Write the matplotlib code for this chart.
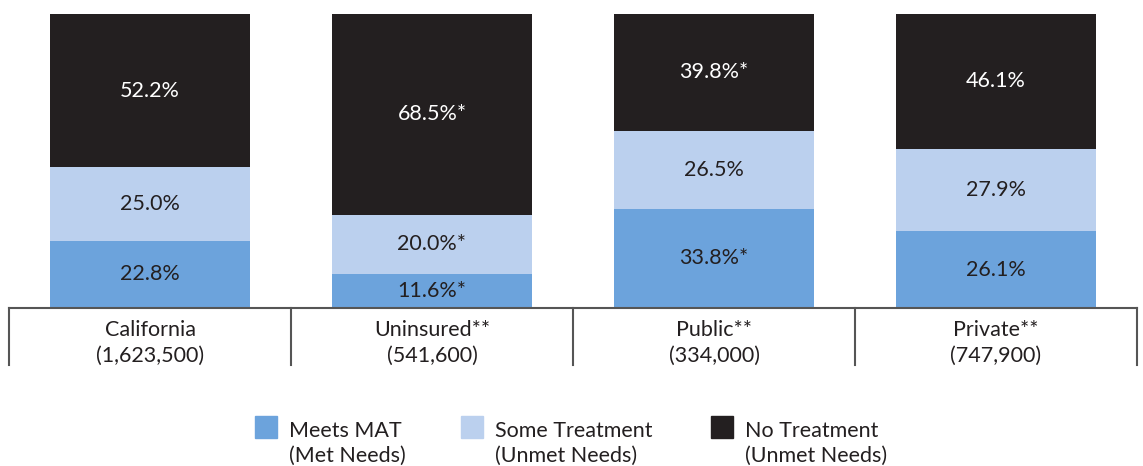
import matplotlib
matplotlib.use("Agg")
import matplotlib.pyplot as plt
from matplotlib.patches import Rectangle

plt.rcParams['font.family'] = ['Lato', 'DejaVu Sans']

# data
groups = ["California", "Uninsured**", "Public**", "Private**"]
counts = ["(1,623,500)", "(541,600)", "(334,000)", "(747,900)"]
meets_mat = [22.8, 11.6, 33.8, 26.1]
some_treatment = [25.0, 20.0, 26.5, 27.9]
no_treatment = [52.2, 68.5, 39.8, 46.1]
meets_lbl = ["22.8%", "11.6%*", "33.8%*", "26.1%"]
some_lbl = ["25.0%", "20.0%*", "26.5%", "27.9%"]
none_lbl = ["52.2%", "68.5%*", "39.8%*", "46.1%"]
legend_names = [("Meets MAT", "(Met Needs)"),
                ("Some Treatment", "(Unmet Needs)"),
                ("No Treatment", "(Unmet Needs)")]

c_meets = "#6ca3dc"
c_some = "#bbd0ee"
c_none = "#231f20"
c_text = "#231f20"
c_line = "#555555"

W, H = 1143, 466
fig = plt.figure(figsize=(W / 100, H / 100), dpi=100)
ax = fig.add_axes([9 / W, 158 / H, 1128 / W, 294 / H])
ax.set_xlim(-0.5, 3.5)
ax.set_ylim(0, 100)
ax.axis('off')

x = list(range(len(groups)))
bw = 200 / 282
ax.bar(x, meets_mat, bw, color=c_meets, clip_on=False)
bottom2 = meets_mat
ax.bar(x, some_treatment, bw, bottom=bottom2, color=c_some, clip_on=False)
bottom3 = [a + b for a, b in zip(meets_mat, some_treatment)]
ax.bar(x, no_treatment, bw, bottom=bottom3, color=c_none, clip_on=False)

fs = 15.5
for i in x:
    ax.text(i, meets_mat[i] / 2, meets_lbl[i], ha='center', va='center',
            fontsize=fs, color=c_text)
    ax.text(i, bottom2[i] + some_treatment[i] / 2, some_lbl[i], ha='center',
            va='center', fontsize=fs, color=c_text)
    ax.text(i, bottom3[i] + no_treatment[i] / 2, none_lbl[i], ha='center',
            va='center', fontsize=fs, color='white')

# category "table" below the bars
tr = ax.get_xaxis_transform()
ax.plot([-0.5, 3.5], [0, 0], color=c_line, lw=1.5, transform=tr, clip_on=False)
for xv in [-0.5, 0.5, 1.5, 2.5, 3.5]:
    ax.plot([xv, xv], [0, -57 / 294], color=c_line, lw=1.5, transform=tr,
            clip_on=False)
for i in x:
    ax.text(i, -22 / 294, groups[i], ha='center', va='center', fontsize=fs,
            color=c_text, transform=tr)
    ax.text(i, -48 / 294, counts[i], ha='center', va='center', fontsize=fs,
            color=c_text, transform=tr)

# legend drawn by hand
sq_x = [255, 461, 711]
colors = [c_meets, c_some, c_none]
for sx, col, (l1, l2) in zip(sq_x, colors, legend_names):
    fig.add_artist(Rectangle((sx / W, 1 - 438 / H), 22 / W, 22 / H,
                             color=col, transform=fig.transFigure))
    fig.text((sx + 34) / W, 1 - 431 / H, l1, ha='left', va='center',
             fontsize=fs, color=c_text)
    fig.text((sx + 34) / W, 1 - 456 / H, l2, ha='left', va='center',
             fontsize=fs, color=c_text)

fig.savefig("out.png", dpi=100)
